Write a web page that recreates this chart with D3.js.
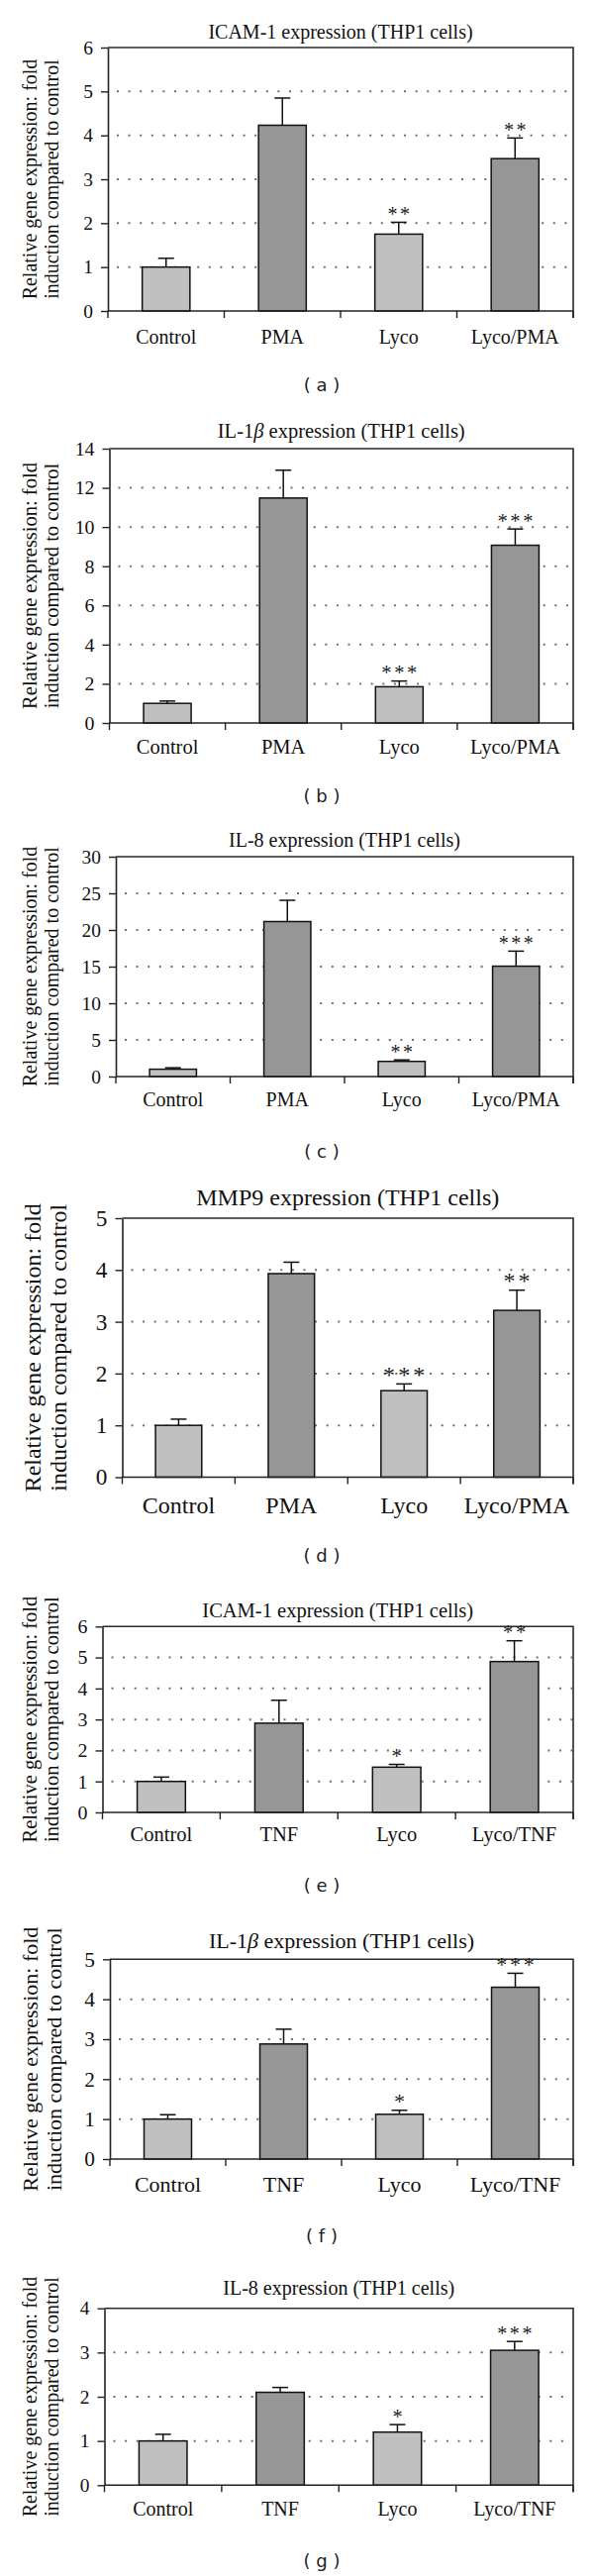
<!DOCTYPE html>
<html><head><meta charset="utf-8">
<script src="https://cdn.jsdelivr.net/npm/d3@7"></script>
<style>html,body{margin:0;padding:0;background:#fff;} svg{display:block;}</style>
</head><body><svg id="chart" width="600" height="2601"></svg>
<script>
// ---------- data ----------
const catsPMA = ["Control", "PMA", "Lyco", "Lyco/PMA"];
const catsTNF = ["Control", "TNF", "Lyco", "Lyco/TNF"];
const panelTags = ["a", "b", "c", "d", "e", "f", "g"];
const genes = ["ICAM-1", "IL-1β", "IL-8", "MMP9", "ICAM-1", "IL-1β", "IL-8"];
const titleSuffix = " expression (THP1 cells)";
const yMaxes = [6, 14, 30, 5, 6, 5, 4];
const yTickSteps = [1, 2, 5, 1, 1, 1, 1];
const yTitleLines = ["Relative gene expression: fold", "induction compared to control"];

const icamPMA = [1.0, 4.23, 1.75, 3.47];   const icamPMAErr = [0.20, 0.62, 0.27, 0.47];
const il1bPMA = [1.0, 11.48, 1.85, 9.07];  const il1bPMAErr = [0.12, 1.42, 0.29, 0.83];
const il8PMA  = [1.0, 21.15, 2.07, 15.06]; const il8PMAErr  = [0.20, 2.90, 0.20, 2.05];
const mmp9PMA = [1.0, 3.93, 1.67, 3.22];   const mmp9PMAErr = [0.12, 0.22, 0.13, 0.39];
const icamTNF = [1.0, 2.88, 1.46, 4.87];   const icamTNFErr = [0.14, 0.74, 0.09, 0.67];
const il1bTNF = [1.0, 2.88, 1.12, 4.30];   const il1bTNFErr = [0.11, 0.37, 0.10, 0.35];
const il8TNF  = [1.0, 2.10, 1.20, 3.05];   const il8TNFErr  = [0.15, 0.11, 0.17, 0.20];

const starsA = ["", "", "**", "**"];
const starsB = ["", "", "***", "***"];
const starsC = ["", "", "**", "***"];
const starsD = ["", "", "***", "**"];
const starsE = ["", "", "*", "**"];
const starsF = ["", "", "*", "***"];
const starsG = ["", "", "*", "***"];

const panels = [
  {cats: catsPMA, vals: icamPMA, errs: icamPMAErr, stars: starsA},
  {cats: catsPMA, vals: il1bPMA, errs: il1bPMAErr, stars: starsB},
  {cats: catsPMA, vals: il8PMA,  errs: il8PMAErr,  stars: starsC},
  {cats: catsPMA, vals: mmp9PMA, errs: mmp9PMAErr, stars: starsD},
  {cats: catsTNF, vals: icamTNF, errs: icamTNFErr, stars: starsE},
  {cats: catsTNF, vals: il1bTNF, errs: il1bTNFErr, stars: starsF},
  {cats: catsTNF, vals: il8TNF,  errs: il8TNFErr,  stars: starsG}
];

// ---------- layout (positions / sizes) ----------
const layout = [
  {left: 109,   right: 579, top: 48,     bottom: 314,    fs: 20,   titleY: 38.5, xLabY: 347,    tagY: 388,  yt1: 37, yt2: 59},
  {left: 110.5, right: 579, top: 453,    bottom: 730,    fs: 20.5, titleY: 442,  xLabY: 760.5,  tagY: 803,  yt1: 37, yt2: 59},
  {left: 117,   right: 579, top: 865,    bottom: 1087,   fs: 20,   titleY: 855,  xLabY: 1117,   tagY: 1162, yt1: 37, yt2: 59},
  {left: 123.5, right: 579, top: 1230,   bottom: 1491.5, fs: 24,   titleY: 1217, xLabY: 1528,   tagY: 1570, yt1: 41, yt2: 67},
  {left: 103.5, right: 579, top: 1642.3, bottom: 1830,   fs: 20.5, titleY: 1633, xLabY: 1859,   tagY: 1903, yt1: 37, yt2: 59},
  {left: 111,   right: 579, top: 1978.3, bottom: 2180,   fs: 22,   titleY: 1967, xLabY: 2212.5, tagY: 2257, yt1: 38, yt2: 62},
  {left: 105.5, right: 579, top: 2330.7, bottom: 2509.3, fs: 20,   titleY: 2317, xLabY: 2540,   tagY: 2585, yt1: 37, yt2: 59}
];

const SERIF = "'Liberation Serif', 'Times New Roman', serif";
const SANS = "'DejaVu Sans', Verdana, sans-serif";
const LIGHT = "#c0c0c0", DARK = "#969696";
const svg = d3.select("#chart");

panels.forEach((p, i) => {
  const L = layout[i];
  const g = svg.append("g");
  const x = d3.scaleBand().domain(p.cats).range([L.left, L.right]).paddingInner(0.59).paddingOuter(0.295);
  const y = d3.scaleLinear().domain([0, yMaxes[i]]).range([L.bottom, L.top]);
  const ticks = d3.range(0, yMaxes[i] + yTickSteps[i] / 2, yTickSteps[i]);
  const rows = p.cats.map((c, k) => ({cat: c, v: p.vals[k], e: p.errs[k], s: p.stars[k], k}));

  // dotted gridlines
  g.append("g").selectAll("line").data(ticks.filter(t => t > 0 && t < yMaxes[i])).join("line")
    .attr("x1", L.left + 9).attr("x2", L.right - 1)
    .attr("y1", d => y(d)).attr("y2", d => y(d))
    .attr("stroke", "#707070").attr("stroke-width", 2).attr("stroke-dasharray", "2,9.6");

  // frame top + right
  g.append("path")
    .attr("d", `M${L.left},${L.top}H${L.right}V${L.bottom + 7}`)
    .attr("fill", "none").attr("stroke", "#2a2a2a").attr("stroke-width", 1.6);

  // bars
  g.append("g").selectAll("rect").data(rows).join("rect")
    .attr("x", d => x(d.cat)).attr("width", x.bandwidth())
    .attr("y", d => y(d.v)).attr("height", d => y(0) - y(d.v))
    .attr("fill", d => d.k % 2 === 0 ? LIGHT : DARK)
    .attr("stroke", "#111").attr("stroke-width", 1.5);

  // error bars (upper only)
  const eg = g.append("g").attr("stroke", "#111").attr("stroke-width", 1.5);
  eg.selectAll("line.v").data(rows).join("line").attr("class", "v")
    .attr("x1", d => x(d.cat) + x.bandwidth() / 2).attr("x2", d => x(d.cat) + x.bandwidth() / 2)
    .attr("y1", d => y(d.v)).attr("y2", d => y(d.v + d.e));
  eg.selectAll("line.c").data(rows).join("line").attr("class", "c")
    .attr("x1", d => x(d.cat) + x.bandwidth() / 2 - 8).attr("x2", d => x(d.cat) + x.bandwidth() / 2 + 8)
    .attr("y1", d => y(d.v + d.e)).attr("y2", d => y(d.v + d.e));

  // significance stars
  const ls = L.fs * 0.13;
  g.append("g").selectAll("text").data(rows.filter(d => d.s)).join("text")
    .attr("x", d => x(d.cat) + x.bandwidth() / 2 + ls / 2)
    .attr("y", d => y(d.v + d.e) - 1.5)
    .attr("text-anchor", "middle")
    .attr("font-family", SERIF).attr("font-size", L.fs)
    .attr("letter-spacing", ls).attr("fill", "#222")
    .text(d => d.s);

  // y axis
  const ya = g.append("g").attr("transform", `translate(${L.left},0)`)
    .call(d3.axisLeft(y).tickValues(ticks).tickSize(7).tickPadding(8).tickSizeOuter(0).tickFormat(d3.format("d")));
  ya.select(".domain").attr("stroke", "#222").attr("stroke-width", 1.6);
  ya.selectAll(".tick line").attr("stroke", "#222").attr("stroke-width", 1.4);
  ya.selectAll(".tick text").attr("font-family", SERIF).attr("font-size", L.fs * 0.97).attr("fill", "#111");

  // x axis line + boundary ticks
  const xg = g.append("g");
  xg.append("line").attr("x1", L.left).attr("x2", L.right).attr("y1", L.bottom).attr("y2", L.bottom)
    .attr("stroke", "#222").attr("stroke-width", 1.6);
  const bounds = d3.range(0, p.cats.length + 1).map(k => x.range()[0] + k * x.step());
  xg.selectAll("line.t").data(bounds).join("line").attr("class", "t")
    .attr("x1", d => d).attr("x2", d => d).attr("y1", L.bottom).attr("y2", L.bottom + 7)
    .attr("stroke", "#222").attr("stroke-width", 1.4);
  xg.selectAll("text").data(p.cats).join("text")
    .attr("x", d => x(d) + x.bandwidth() / 2).attr("y", L.xLabY)
    .attr("text-anchor", "middle").attr("font-family", SERIF).attr("font-size", L.fs).attr("fill", "#111")
    .text(d => d);

  // title
  const cx = (L.left + L.right) / 2;
  const t = g.append("text").attr("x", cx).attr("y", L.titleY).attr("text-anchor", "middle")
    .attr("font-family", SERIF).attr("font-size", L.fs).attr("fill", "#111");
  const gene = genes[i];
  if (gene.includes("β")) {
    t.append("tspan").text(gene.replace("β", ""));
    t.append("tspan").attr("font-style", "italic").text("β");
    t.append("tspan").text(titleSuffix);
  } else {
    t.text(gene + titleSuffix);
  }

  // y axis title (two lines, rotated)
  const cy = (L.top + L.bottom) / 2;
  [L.yt1, L.yt2].forEach((bx, li) => {
    g.append("text").attr("transform", `translate(${bx},${cy}) rotate(-90)`)
      .attr("text-anchor", "middle").attr("font-family", SERIF).attr("font-size", L.fs).attr("fill", "#111")
      .text(yTitleLines[li]);
  });

  // panel tag
  g.append("text").attr("x", 325).attr("y", L.tagY).attr("dominant-baseline", "central")
    .attr("text-anchor", "middle").attr("font-family", SANS).attr("font-size", 18).attr("fill", "#222")
    .text(`( ${panelTags[i]} )`);
});
</script>
</body></html>
